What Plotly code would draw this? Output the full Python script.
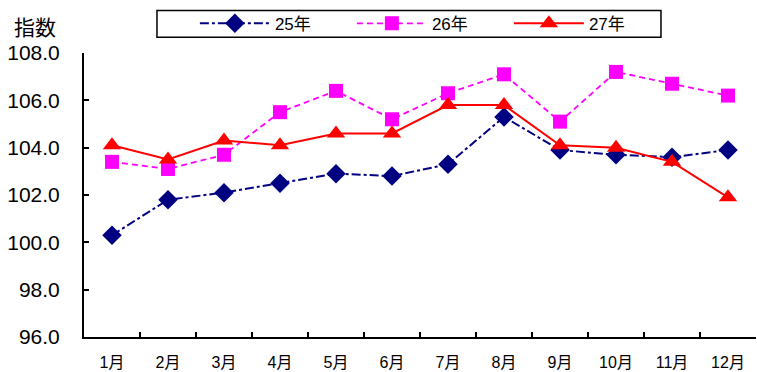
import plotly.graph_objects as go

months = ["1月", "2月", "3月", "4月", "5月", "6月", "7月", "8月", "9月", "10月", "11月", "12月"]
y25 = [100.3, 101.8, 102.1, 102.5, 102.9, 102.8, 103.3, 105.3, 103.9, 103.7, 103.6, 103.9]
y26 = [103.4, 103.1, 103.7, 105.5, 106.4, 105.2, 106.3, 107.1, 105.1, 107.2, 106.7, 106.2]
y27 = [104.1, 103.5, 104.3, 104.1, 104.6, 104.6, 105.8, 105.8, 104.1, 104.0, 103.4, 101.9]
y_ticks = [96.0, 98.0, 100.0, 102.0, 104.0, 106.0, 108.0]

FONT = "Liberation Sans, Noto Sans CJK JP, sans-serif"

fig = go.Figure()
fig.add_trace(go.Scatter(
    x=months, y=y25, name="25年", mode="lines+markers",
    line=dict(color="#000080", width=2, dash="dashdot"),
    marker=dict(symbol="diamond", size=15, color="#000080"),
))
fig.add_trace(go.Scatter(
    x=months, y=y26, name="26年", mode="lines+markers",
    line=dict(color="#FF00FF", width=1.8, dash="6px,4px"),
    marker=dict(symbol="square", size=14, color="#FF00FF"),
))
fig.add_trace(go.Scatter(
    x=months, y=y27, name="27年", mode="lines+markers",
    line=dict(color="#FF0000", width=2),
    marker=dict(symbol="triangle-up", size=16, color="#FF0000"),
))

fig.update_layout(
    width=757, height=372,
    margin=dict(l=84, r=1, t=53, b=32),
    paper_bgcolor="white", plot_bgcolor="white",
    font=dict(family=FONT, size=16, color="black"),
    showlegend=True,
    legend=dict(
        orientation="h", x=0.165, y=1.1028, xanchor="left", yanchor="middle",
        borderwidth=0, bgcolor="rgba(0,0,0,0)",
        itemwidth=70, entrywidth=72, entrywidthmode="pixels",
        font=dict(family=FONT, size=17),
        tracegroupgap=0,
    ),
    # frame around the legend
    shapes=[dict(
        type="rect", xref="paper", yref="paper",
        x0=0.1086, x1=0.8586, y0=1.0557, y1=1.1498,
        line=dict(color="black", width=1.5), fillcolor="white", layer="above",
    )],
    xaxis=dict(
        type="category", showgrid=False, zeroline=False,
        showline=True, linecolor="black", linewidth=2,
        ticks="inside", ticklen=5, tickwidth=1.5, tickcolor="black",
        tickson="boundaries", ticklabelstandoff=10,
        tickfont=dict(family=FONT, size=16),
        range=[-0.5, 11.5],
    ),
    yaxis=dict(
        range=[96, 108], tickvals=y_ticks,
        ticktext=[f"{v:.1f}" for v in y_ticks],
        showgrid=False, zeroline=False,
        showline=True, linecolor="black", linewidth=2,
        ticks="inside", ticklen=5, tickwidth=1.5, tickcolor="black",
        ticklabelstandoff=18,
        tickfont=dict(family=FONT, size=21),
    ),
    annotations=[dict(
        text="指数", xref="paper", yref="paper",
        x=-0.073, y=1.094, xanchor="center", yanchor="middle",
        showarrow=False, font=dict(family="Noto Sans CJK JP", size=21),
    )],
)

fig.write_html("out.html")
